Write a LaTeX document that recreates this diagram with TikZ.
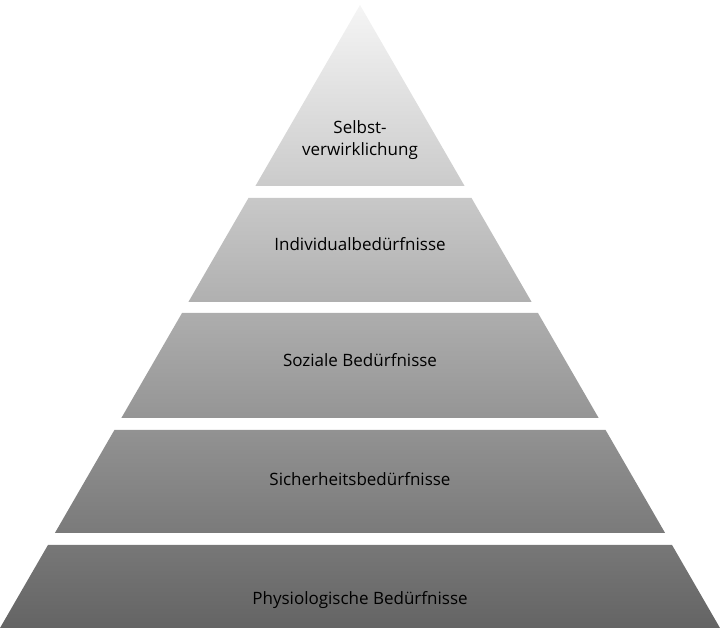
\documentclass[tikz,border=0pt]{standalone}
\usepackage{fontspec}
\setmainfont{Open Sans}
\usetikzlibrary{calc}
\definecolor{pyrtop}{RGB}{245,245,245}
\definecolor{pyrbot}{RGB}{100,100,100}
\tikzset{
	layer label/.style={font=\fontsize{17}{22}\selectfont, align=center, text=black}
}
\begin{document}
\begin{tikzpicture}[x=1pt,y=-1pt]
	\useasboundingbox (0,0) rectangle (720,628);
	\coordinate (apex) at (360,5);
	% layers: top/bottom edge (y)
	\foreach \t/\b [count=\i] in {5/186,198/302,313/418,430/533,545/628} {
		\begin{scope}
			\clip ($(apex)!{(\t-5)/623}!(0,628)$) -- ($(apex)!{(\b-5)/623}!(0,628)$)
				-- ($(apex)!{(\b-5)/623}!(720,628)$) -- ($(apex)!{(\t-5)/623}!(720,628)$) -- cycle;
			\shade[top color=pyrtop, bottom color=pyrbot] (0,5) rectangle (720,628);
		\end{scope}
	}
	\node [layer label] (self) at (360,140) {Selbst-\\verwirklichung};
	\node [layer label] (indiv) at (360,244) {Individualbedürfnisse};
	\node [layer label] (social) at (360,360) {Soziale Bedürfnisse};
	\node [layer label] (safety) at (360,479) {Sicherheitsbedürfnisse};
	\node [layer label] (physio) at (360,600) {Physiologische Bedürfnisse};
\end{tikzpicture}
\end{document}
